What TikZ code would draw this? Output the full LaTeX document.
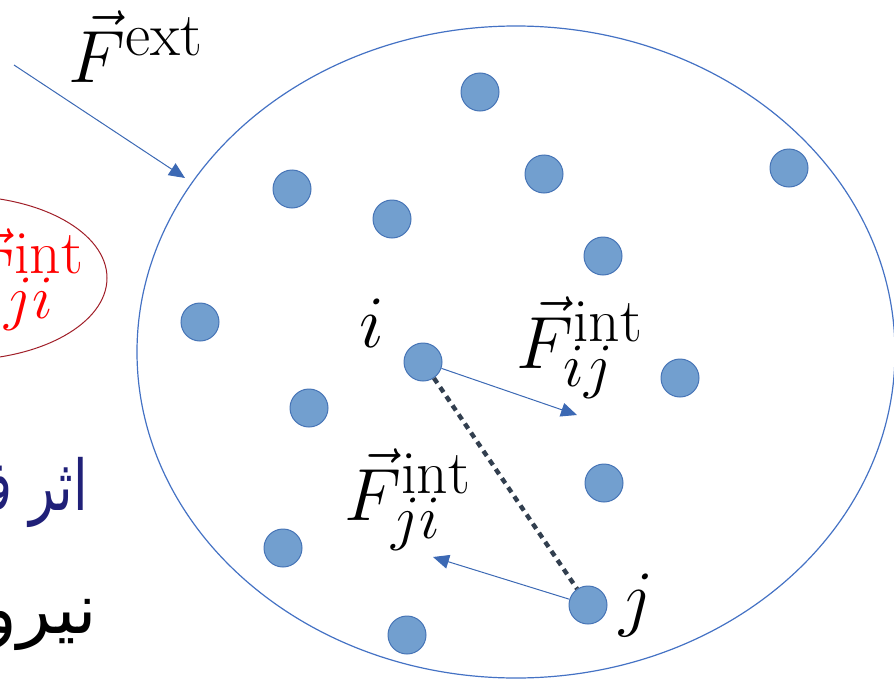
\documentclass[tikz,border=0pt]{standalone}
\usepackage{fontspec}
\usetikzlibrary{arrows.meta}
\newfontfamily\arabicfont[Script=Arabic]{DejaVu Sans}
\TeXXeTstate=1
\definecolor{pfill}{RGB}{114,159,207}
\definecolor{pdraw}{RGB}{70,116,182}
\definecolor{elblue}{RGB}{68,114,196}
\definecolor{arblue}{RGB}{60,105,180}
\definecolor{dotc}{RGB}{50,63,79}
\definecolor{redline}{RGB}{160,30,40}
\definecolor{navytext}{RGB}{32,32,120}
\tikzset{
  particle/.style={circle, minimum size=19pt, inner sep=0pt, fill=pfill, draw=pdraw, line width=0.5pt},
  elline/.style={draw=elblue, line width=0.6pt},
  vecarrow/.style={draw=arblue, line width=0.5pt, -{Triangle[length=8pt,width=7pt]}},
  dotline/.style={draw=dotc, line width=2.2pt, dash pattern=on 3pt off 2.5pt},
  lbl/.style={inner sep=0pt, font=\Huge, scale=1.487},
  artext/.style={inner sep=0pt, anchor=base east, font=\arabicfont\fontsize{35}{40}\selectfont}
}
\begin{document}
\begin{tikzpicture}[x=0.5pt,y=-0.5pt]
\useasboundingbox (0,0) rectangle (894,680);
% big ellipse
\draw[elline] (516,352) ellipse [x radius=189.5pt, y radius=163pt];
% small red ellipse
\draw[draw=redline, line width=0.5pt] (-40,278) ellipse [x radius=73.5pt, y radius=41pt];
% particles
\node[particle] (p1) at (480,92) {};
\node[particle] (p2) at (292,189) {};
\node[particle] (p3) at (544,174) {};
\node[particle] (p4) at (789,168) {};
\node[particle] (p5) at (392,219) {};
\node[particle] (p6) at (603,256) {};
\node[particle] (p7) at (200,322) {};
\node[particle] (pi) at (423,362) {};
\node[particle] (p9) at (680,378) {};
\node[particle] (p10) at (309,408) {};
\node[particle] (p11) at (604,483) {};
\node[particle] (p12) at (283,548) {};
\node[particle] (pj) at (588,605) {};
\node[particle] (p14) at (407,635) {};
% connectors
\draw[dotline] (pi) -- (pj);
\coordinate (fijtip) at (577,415);
\coordinate (fjitip) at (433,557);
\draw[vecarrow] (pi) -- (fijtip);
\draw[vecarrow] (pj) -- (fjitip);
\coordinate (extstart) at (14,65);
\coordinate (exttip) at (185,178);
\draw[vecarrow] (extstart) -- (exttip);
% labels
\node[lbl, anchor=base west] (fext) at (68,82) {$\vec{F}^{\mathrm{ext}}$};
\node[lbl, anchor=base west] (fij) at (516,368) {$\vec{F}^{\mathrm{int}}_{ij}$};
\node[lbl, anchor=base west] (fji) at (344,520) {$\vec{F}^{\mathrm{int}}_{ji}$};
\node[lbl, anchor=base west, text=red] (fjired) at (-43,300) {$\vec{F}^{\mathrm{int}}_{ji}$};
\node[lbl, anchor=base] (li) at (372,347) {$i$};
\node[lbl, anchor=base] (lj) at (637,622) {$j$};
% persian text
\node[artext, text=navytext, xscale=0.75] (t1) at (88,510) {\beginR اثر ف^^^^200d\endR};
\node[artext, text=black] (t2) at (97,633) {\beginR نیرو\endR};
\end{tikzpicture}
\end{document}
